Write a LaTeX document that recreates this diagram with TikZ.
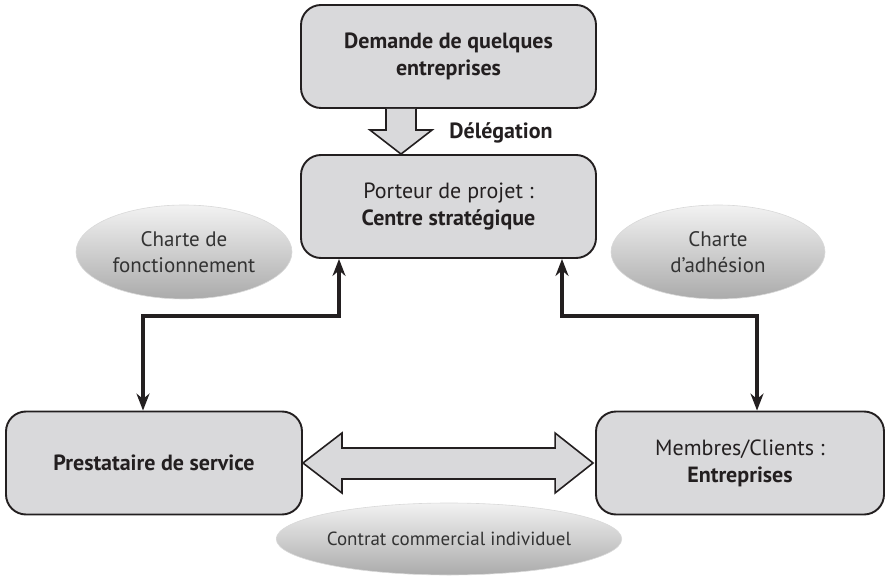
\documentclass[tikz,border=0pt]{standalone}
\usepackage{fontspec}
\setmainfont{PT Sans}
\usepackage{xcolor}
\usetikzlibrary{arrows.meta}
\usetikzlibrary{calc}
\usetikzlibrary{shapes.geometric}

\definecolor{boxgray}{HTML}{D9D9DB}
\definecolor{inkgray}{HTML}{231F20}
\definecolor{tagtext}{HTML}{333333}

\tikzset{
  box/.style={draw=inkgray, line width=0.95pt, rounded corners=10pt, fill=boxgray,
    align=center, text=inkgray, font=\fontsize{11}{13.5}\selectfont,
    minimum width=147.5pt, minimum height=51.5pt, inner sep=0pt},
  tag/.style={ellipse, draw=gray!30, line width=0.3pt, top color=gray!10, bottom color=gray!66,
    align=center, text=tagtext, font=\fontsize{10.5}{13}\selectfont, inner sep=0pt},
  link/.style={line width=1.6pt, draw=inkgray, {Stealth[length=8.5pt,width=6.5pt]}-{Stealth[length=8.5pt,width=6.5pt]}},
  bigarrow/.style={draw=inkgray, line width=0.8pt, fill=boxgray, line join=miter}
}

\begin{document}
\begin{tikzpicture}[x=0.5pt,y=-0.5pt]

        \useasboundingbox (0,0) rectangle (886,576);

        % Boxes
        \node[box] (demande) at (448.5,56.5) {\textbf{Demande de quelques}\\\textbf{entreprises}};
        \node[box] (porteur) at (448.5,206.5) {Porteur de projet :\\\textbf{Centre stratégique}};
        \node[box, minimum width=148pt] (presta) at (154,463) {\textbf{Prestataire de service}};
        \node[box, minimum width=144pt] (membres) at (740,463) {Membres/Clients :\\\textbf{Entreprises}};

        % Ellipses
        \node[tag, minimum width=108pt, minimum height=47pt] (fonct) at (184,252) {Charte de\\fonctionnement};
        \node[tag, minimum width=107pt, minimum height=47pt] (adhes) at (718,252) {Charte\\d’adhésion};
        \node[tag, minimum width=144pt, minimum height=36pt, font=\fontsize{9.5}{11}\selectfont] (contrat) at (449,539) {Contrat commercial individuel};

        % Delegation arrow
        \coordinate (dtop) at ($(demande.south)+(-47.5,0)$);
        \coordinate (dtip) at (dtop |- porteur.north);
        \draw[bigarrow] ($(dtop)+(-15,0)$) -- ($(dtip)+(-15,-24)$) -- ($(dtip)+(-31,-24)$)
          -- (dtip) -- ($(dtip)+(31,-24)$) -- ($(dtip)+(15,-24)$) -- ($(dtop)+(15,0)$);
        \node[font=\fontsize{11}{13}\selectfont\bfseries, text=inkgray] (deleg) at (501,133) {Délégation};

        % Links
        \draw[link] ($(presta.north)+(-11,0)$) |- ($(porteur.south)+(-109.5,57)$) -- ($(porteur.south)+(-109.5,0)$);
        \draw[link] ($(membres.north)+(17,0)$) |- ($(porteur.south)+(113.5,57)$) -- ($(porteur.south)+(113.5,0)$);

        % Contract arrow
        \coordinate (cl) at (presta.east);
        \coordinate (cr) at ($(membres.west)+(-2,0)$);
        \draw[bigarrow] (cl) -- ($(cl)+(39,-30)$) -- ($(cl)+(39,-15)$) -- ($(cr)+(-38,-15)$)
          -- ($(cr)+(-38,-30)$) -- (cr) -- ($(cr)+(-38,30)$) -- ($(cr)+(-38,16)$)
          -- ($(cl)+(39,16)$) -- ($(cl)+(39,30)$) -- cycle;

    \end{tikzpicture}
\end{document}
